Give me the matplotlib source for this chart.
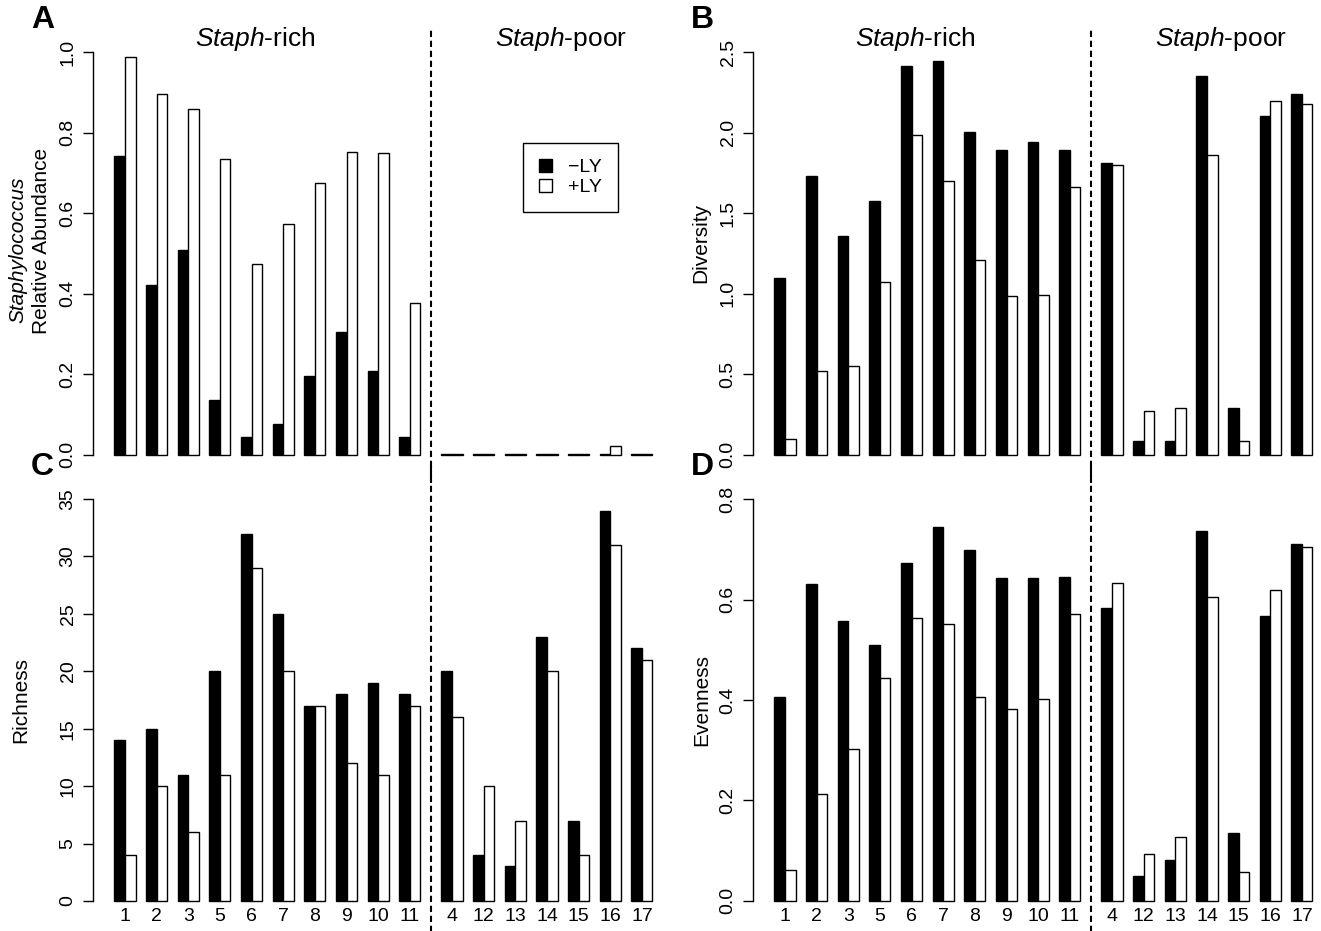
import numpy as np
import matplotlib
matplotlib.use('Agg')
import matplotlib.pyplot as plt
from matplotlib.patches import Patch

plt.rcParams['font.family'] = ['Liberation Sans', 'DejaVu Sans']
plt.rcParams['mathtext.fontset'] = 'custom'
plt.rcParams['mathtext.rm'] = 'Liberation Sans'
plt.rcParams['mathtext.it'] = 'Liberation Sans:italic'

# === 数据 ===
rich_ids = ['1', '2', '3', '5', '6', '7', '8', '9', '10', '11']
poor_ids = ['4', '12', '13', '14', '15', '16', '17']
sample_ids = rich_ids + poor_ids

staph_minus = [0.743, 0.421, 0.508, 0.137, 0.045, 0.077, 0.196, 0.305, 0.208, 0.044,
               0.003, 0.001, 0.002, 0.003, 0.001, 0.001, 0.002]
staph_plus = [0.987, 0.896, 0.858, 0.734, 0.473, 0.573, 0.674, 0.751, 0.749, 0.376,
              0.001, 0.001, 0.001, 0.001, 0.001, 0.0215, 0.001]

diversity_minus = [1.10, 1.733, 1.36, 1.573, 2.411, 2.446, 2.002, 1.89, 1.944, 1.895,
                   1.812, 0.085, 0.089, 2.353, 0.292, 2.102, 2.243]
diversity_plus = [0.10, 0.518, 0.551, 1.074, 1.986, 1.70, 1.211, 0.985, 0.993, 1.665,
                  1.801, 0.272, 0.288, 1.862, 0.087, 2.195, 2.181]

richness_minus = [14, 15, 11, 20, 32, 25, 17, 18, 19, 18, 20, 4, 3, 23, 7, 34, 22]
richness_plus = [4, 10, 6, 11, 29, 20, 17, 12, 11, 17, 16, 10, 7, 20, 4, 31, 21]

evenness_minus = [0.406, 0.631, 0.558, 0.509, 0.673, 0.745, 0.699, 0.643, 0.643, 0.645,
                  0.584, 0.050, 0.081, 0.737, 0.136, 0.567, 0.711]
evenness_plus = [0.062, 0.213, 0.303, 0.443, 0.5625, 0.551, 0.406, 0.3825, 0.401, 0.5705,
                 0.633, 0.093, 0.128, 0.605, 0.057, 0.618, 0.7055]

# 柱子位置：每组两根柱，组间隔 1，富/贫两组之间再多 1
n_rich = len(rich_ids)
group_idx = np.arange(len(sample_ids))
left = 1 + 3 * group_idx + (group_idx >= n_rich)
split_x = 1 + 3 * n_rich

W, H = 1321, 931
fig = plt.figure(figsize=(W / 100, H / 100), dpi=100)

unit = 10.55
ax_w = 53.5 * unit
dash = (0, (3, 1.8))
panels = [
    # (左边像素, 上边像素, 下边像素, -LY, +LY, 顶刻度, 刻度, 格式, 字母, 是否顶行)
    (93.3, 36, 471, staph_minus, staph_plus, 1.0, np.arange(0, 1.01, 0.2), '{:.1f}', 'A', True),
    (753.3, 36, 471, diversity_minus, diversity_plus, 2.5, np.arange(0, 2.51, 0.5), '{:.1f}', 'B', True),
    (93.3, 483, 917, richness_minus, richness_plus, 35, np.arange(0, 36, 5), '{:.0f}', 'C', False),
    (753.3, 483, 917, evenness_minus, evenness_plus, 0.8, np.arange(0, 0.81, 0.2), '{:.1f}', 'D', False),
]

axes = []
for (lx, top, bot, vminus, vplus, ymax, ticks, fmt, letter, is_top) in panels:
    ax = fig.add_axes([lx / W, (H - bot) / H, ax_w / W, (bot - top) / H])
    ax.bar(left, vminus, width=1, align='edge', color='black', edgecolor='black', linewidth=1)
    ax.bar(left + 1, vplus, width=1, align='edge', color='white', edgecolor='black', linewidth=1)
    ax.set_xlim(-1, 52.5)
    ax.set_ylim(-0.04 * ymax, 1.04 * ymax)
    for s in ['top', 'right', 'bottom']:
        ax.spines[s].set_visible(False)
    ax.spines['bottom'].set_position(('data', 0))
    ax.spines['left'].set_bounds(0, ymax)
    ax.spines['left'].set_linewidth(1)
    ax.set_yticks(ticks)
    ax.set_yticklabels([fmt.format(t) for t in ticks], rotation=90, va='center', fontsize=14)
    ax.tick_params(axis='y', length=7, width=1, pad=5)
    if is_top:
        ax.set_xticks([])
        ax.text(14.33, 0.977, r'$\mathit{Staph}$-rich', transform=ax.get_xaxis_transform(),
                ha='center', va='baseline', fontsize=19)
        ax.text(43.3, 0.977, r'$\mathit{Staph}$-poor', transform=ax.get_xaxis_transform(),
                ha='center', va='baseline', fontsize=19)
        ax.axvline(split_x, ymin=-0.06, ymax=1.018, color='black', linestyle=dash,
                   linewidth=1.5, clip_on=False)
    else:
        ax.set_xticks(left + 1)
        ax.set_xticklabels(sample_ids, fontsize=14)
        ax.tick_params(axis='x', length=0, pad=5)
        ax.axvline(split_x, ymin=-0.04, ymax=1.04, color='black', linestyle=dash,
                   linewidth=1.5, clip_on=False)
    fig.text((lx - 51) / W, 1 - (top - 16) / H, letter, fontsize=23, fontweight='bold',
             ha='center', va='center')
    axes.append(ax)

# y 轴标题
fig.text(18 / W, 1 - 250 / H, 'Staphylococcus', rotation=90, fontsize=15, style='italic',
         ha='center', va='center')
fig.text(42 / W, 1 - 241 / H, 'Relative Abundance', rotation=90, fontsize=15,
         ha='center', va='center')
fig.text(701 / W, 1 - 243 / H, 'Diversity', rotation=90, fontsize=15, ha='center', va='center')
fig.text(21 / W, 1 - 700 / H, 'Richness', rotation=90, fontsize=15, ha='center', va='center')
fig.text(702 / W, 1 - 700 / H, 'Evenness', rotation=90, fontsize=15, ha='center', va='center')

# 图例
handles = [Patch(facecolor='black', edgecolor='black'),
           Patch(facecolor='white', edgecolor='black')]
leg = axes[0].legend(handles, ['\u2212LY', '+LY'], loc='upper left',
                     bbox_to_anchor=((523 - 93.3) / ax_w, (471 - 143) / 435),
                     borderaxespad=0, fontsize=14, handlelength=0.67, handleheight=0.67,
                     handletextpad=0.85, borderpad=0.8, labelspacing=0.15, fancybox=False,
                     framealpha=1, edgecolor='black')
leg.get_frame().set_linewidth(1)

fig.savefig('out.png', dpi=100)
